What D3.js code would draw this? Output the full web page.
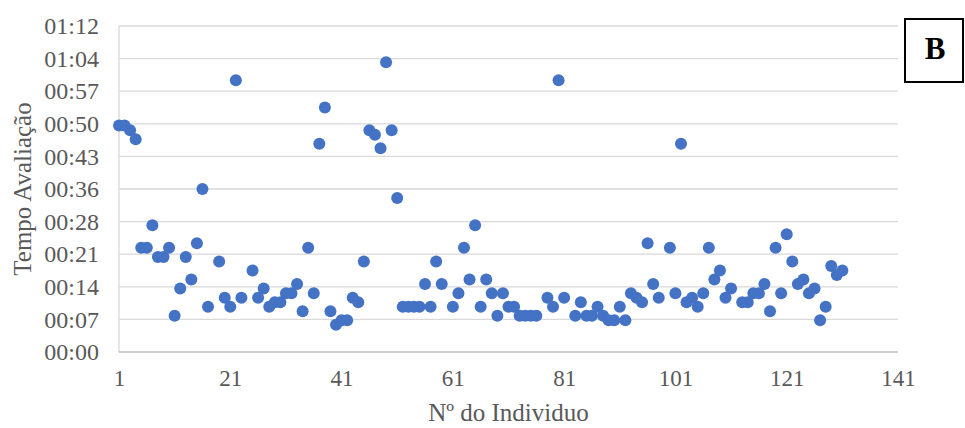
<!DOCTYPE html>
<html>
<head>
<meta charset="utf-8">
<script src="https://cdn.jsdelivr.net/npm/d3@7"></script>
<style>
  html, body { margin: 0; padding: 0; background: #ffffff; }
  svg { display: block; }
</style>
</head>
<body>
<svg id="chart" width="965" height="428"></svg>
<script>
// Nº do indivíduo (some individuals have no recorded time)
const individuo = [
  1, 2, 3, 4, 5, 6, 7, 8, 9, 10, 11, 12, 13, 14, 15, 16, 17, 19, 20, 21,
  22, 23, 25, 26, 27, 28, 29, 30, 31, 32, 33, 34, 35, 36, 37, 38, 39, 40, 41, 42,
  43, 44, 45, 46, 47, 48, 49, 50, 51, 52, 53, 54, 55, 56, 57, 58, 59, 61, 62, 63,
  64, 65, 66, 67, 68, 69, 70, 71, 72, 73, 74, 75, 76, 78, 79, 80, 81, 83, 84, 85,
  86, 87, 88, 89, 90, 91, 92, 93, 94, 95, 96, 97, 98, 100, 101, 102, 103, 104, 105, 106,
  107, 108, 109, 110, 111, 113, 114, 115, 116, 117, 118, 119, 120, 121, 122, 123, 124, 125, 126, 127,
  128, 129, 130, 131
];

// Tempo de avaliação, in minutes
const tempo = [
  50, 50, 49, 47, 23, 23, 28, 21, 21, 23, 8, 14, 21, 16, 24, 36, 10, 20, 12, 10,
  60, 12, 18, 12, 14, 10, 11, 11, 13, 13, 15, 9, 23, 13, 46, 54, 9, 6, 7, 7,
  12, 11, 20, 49, 48, 45, 64, 49, 34, 10, 10, 10, 10, 15, 10, 20, 15, 10, 13, 23,
  16, 28, 10, 16, 13, 8, 13, 10, 10, 8, 8, 8, 8, 12, 10, 60, 12, 8, 11, 8,
  8, 10, 8, 7, 7, 10, 7, 13, 12, 11, 24, 15, 12, 23, 13, 46, 11, 12, 10, 13,
  23, 16, 18, 12, 14, 11, 11, 13, 13, 15, 9, 23, 13, 26, 20, 15, 16, 13, 14, 7,
  10, 19, 17, 18
];

const xTicks = [1, 21, 41, 61, 81, 101, 121, 141];
const yTicks = [0, 7.2, 14.4, 21.6, 28.8, 36, 43.2, 50.4, 57.6, 64.8, 72];
const yTickLabels = ["00:00", "00:07", "00:14", "00:21", "00:28", "00:36",
                     "00:43", "00:50", "00:57", "01:04", "01:12"];

const xTitle = "Nº do Individuo";
const yTitle = "Tempo Avaliação";
const panelLabel = "B";

const points = individuo.map((d, i) => ({ x: d, y: tempo[i] }));

const svg = d3.select("#chart");
const plotLeft = 119, plotRight = 898, plotTop = 26, plotBottom = 352;

const x = d3.scaleLinear().domain([1, 141]).range([plotLeft, plotRight]);
const y = d3.scaleLinear().domain([0, 72]).range([plotBottom, plotTop]);

const textColor = "#595959";
const fontFamily = "'Liberation Serif', 'Times New Roman', Times, serif";

// horizontal gridlines
svg.append("g")
  .selectAll("line")
  .data(yTicks.slice(1))
  .join("line")
  .attr("x1", plotLeft).attr("x2", plotRight)
  .attr("y1", d => y(d)).attr("y2", d => y(d))
  .attr("stroke", "#d9d9d9")
  .attr("stroke-width", 1.3);

// left axis line
svg.append("line")
  .attr("x1", plotLeft).attr("x2", plotLeft)
  .attr("y1", plotTop).attr("y2", plotBottom)
  .attr("stroke", "#d9d9d9")
  .attr("stroke-width", 1.3);

// bottom axis line
svg.append("line")
  .attr("x1", plotLeft).attr("x2", plotRight)
  .attr("y1", plotBottom).attr("y2", plotBottom)
  .attr("stroke", "#bfbfbf")
  .attr("stroke-width", 1.5);

// y axis
const yAxis = d3.axisLeft(y)
  .tickValues(yTicks)
  .tickFormat((d, i) => yTickLabels[i])
  .tickSize(0)
  .tickPadding(20);
const gy = svg.append("g").attr("transform", `translate(${plotLeft},0)`).call(yAxis);
gy.select(".domain").remove();
gy.selectAll("text")
  .attr("fill", textColor)
  .style("font-family", fontFamily)
  .style("font-size", "24px");

// x axis
const xAxis = d3.axisBottom(x)
  .tickValues(xTicks)
  .tickFormat(d3.format("d"))
  .tickSize(0)
  .tickPadding(18);
const gx = svg.append("g").attr("transform", `translate(0,${plotBottom})`).call(xAxis);
gx.select(".domain").remove();
gx.selectAll("text")
  .attr("fill", textColor)
  .style("font-family", fontFamily)
  .style("font-size", "23px");

// scatter points
svg.append("g")
  .selectAll("circle")
  .data(points)
  .join("circle")
  .attr("cx", d => x(d.x))
  .attr("cy", d => y(d.y))
  .attr("r", 6)
  .attr("fill", "#4472C4");

// axis titles
svg.append("text")
  .attr("x", (plotLeft + plotRight) / 2)
  .attr("y", 421)
  .attr("text-anchor", "middle")
  .attr("fill", textColor)
  .style("font-family", fontFamily)
  .style("font-size", "25px")
  .text(xTitle);

svg.append("text")
  .attr("transform", `translate(31,${(plotTop + plotBottom) / 2}) rotate(-90)`)
  .attr("text-anchor", "middle")
  .attr("fill", textColor)
  .style("font-family", fontFamily)
  .style("font-size", "25px")
  .text(yTitle);

// panel label box
svg.append("rect")
  .attr("x", 905).attr("y", 19)
  .attr("width", 58).attr("height", 63)
  .attr("fill", "#ffffff")
  .attr("stroke", "#000000")
  .attr("stroke-width", 2);

svg.append("text")
  .attr("x", 935)
  .attr("y", 59)
  .attr("text-anchor", "middle")
  .attr("fill", "#000000")
  .style("font-family", fontFamily)
  .style("font-weight", "bold")
  .style("font-size", "31px")
  .text(panelLabel);
</script>
</body>
</html>
